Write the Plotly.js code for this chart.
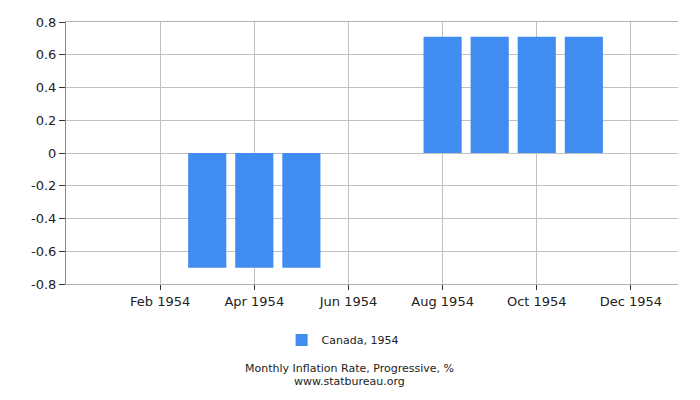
<!DOCTYPE html>
<html>
<head>
<meta charset="utf-8">
<script src="https://cdn.plot.ly/plotly-3.0.1.min.js"></script>
<style>
  html, body { margin: 0; padding: 0; background: #fff; }
  #chart { width: 700px; height: 400px; }
</style>
</head>
<body>
<div id="chart"></div>
<script>
// Canada, monthly inflation rate 1954 (progressive, %)
const months = ['Jan 1954', 'Feb 1954', 'Mar 1954', 'Apr 1954', 'May 1954', 'Jun 1954',
                'Jul 1954', 'Aug 1954', 'Sep 1954', 'Oct 1954', 'Nov 1954', 'Dec 1954'];
const inflation = [0, 0, -0.70, -0.70, -0.70, 0, 0, 0.71, 0.71, 0.71, 0.71, 0];
const tickMonths = ['Feb 1954', 'Apr 1954', 'Jun 1954', 'Aug 1954', 'Oct 1954', 'Dec 1954'];
const yTicks = [-0.8, -0.6, -0.4, -0.2, 0, 0.2, 0.4, 0.6, 0.8];
const seriesName = 'Canada, 1954';
const chartTitle = 'Monthly Inflation Rate, Progressive, %';
const source = 'www.statbureau.org';

const font = 'DejaVu Sans, Verdana, sans-serif';

Plotly.newPlot('chart', [{
    x: months,
    y: inflation,
    type: 'bar',
    name: seriesName,
    marker: { color: '#418cf0' },
    hoverinfo: 'x+y',
}], {
    width: 700,
    height: 400,
    paper_bgcolor: '#ffffff',
    plot_bgcolor: '#ffffff',
    font: { family: font, size: 13, color: '#222' },
    margin: { t: 22, r: 22, b: 116, l: 66 },
    bargap: 0.19,
    showlegend: true,
    legend: {
        orientation: 'h',
        x: 0.452, xanchor: 'center',
        y: -0.214, yanchor: 'middle',
        font: { family: font, size: 11, color: '#222' },
    },
    xaxis: {
        type: 'category',
        categoryorder: 'array',
        categoryarray: months,
        range: [-1, 12],
        tickmode: 'array',
        tickvals: tickMonths,
        ticktext: tickMonths,
        ticks: 'outside',
        ticklen: 5,
        tickcolor: '#333',
        showgrid: true,
        gridcolor: '#c0c0c0',
        showline: true,
        linecolor: '#b0b0b0',
        mirror: true,
        zeroline: false,
        tickfont: { size: 13 },
    },
    yaxis: {
        range: [-0.8, 0.8],
        tickmode: 'array',
        tickvals: yTicks,
        ticktext: yTicks.map(v => v === 0 ? '0' : String(v)),
        ticks: 'outside',
        ticklen: 6,
        tickcolor: '#333',
        showgrid: true,
        gridcolor: '#c0c0c0',
        showline: true,
        linecolor: '#888',
        zeroline: false,
        tickfont: { size: 13 },
    },
    annotations: [
        { text: chartTitle, xref: 'paper', yref: 'paper', x: 0.464, y: -0.322,
          xanchor: 'center', yanchor: 'middle', showarrow: false,
          font: { family: font, size: 11, color: '#222' } },
        { text: source, xref: 'paper', yref: 'paper', x: 0.464, y: -0.374,
          xanchor: 'center', yanchor: 'middle', showarrow: false,
          font: { family: font, size: 11, color: '#222' } },
    ],
}, { displayModeBar: false, responsive: false });
</script>
</body>
</html>
